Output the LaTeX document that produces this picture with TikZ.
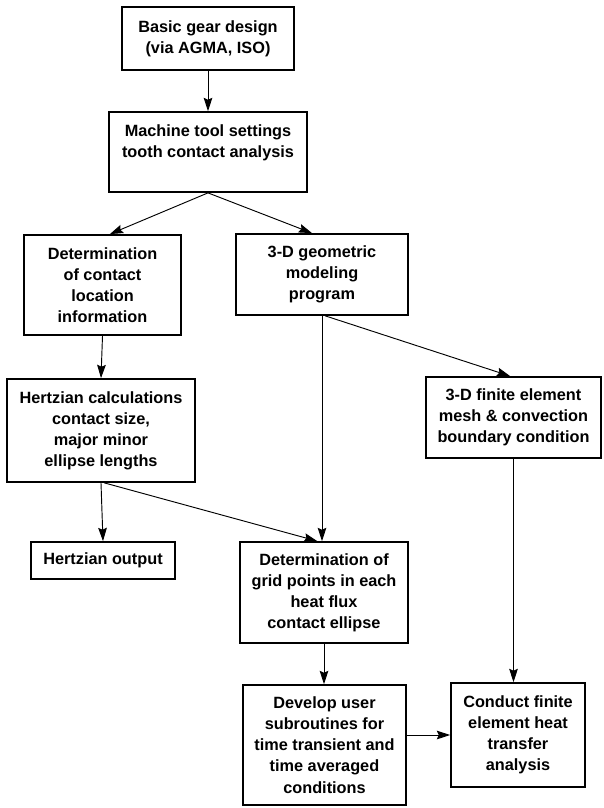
\documentclass[tikz,border=0pt]{standalone}
\usepackage{fontspec}
\setmainfont{Liberation Sans}
\usepackage{tikz}
\usetikzlibrary{positioning,arrows.meta}
\tikzstyle{flowArr}=[-{Stealth[length=4mm, width=2.6mm, inset=0.6mm]}, black, line width=0.8pt]
\tikzstyle {proc_box} = [rectangle, text centered, align=center, draw=black, line width=1.5pt, inner sep=2pt, font=\fontsize{13.9}{18}\selectfont\bfseries]

\begin{document}
\begin{tikzpicture}
        \useasboundingbox (0, 0) rectangle (18.09, -24.24);

        % top of the chart
        \node [style=proc_box, minimum width=5.16cm, minimum height=1.89cm] (Basic) at (6.24, -1.155) {Basic gear design\\(via AGMA, ISO)};
        \node [style=proc_box, minimum width=5.94cm, minimum height=2.4cm] (Machine) at (6.24, -4.56) {Machine tool settings\\tooth contact analysis\\\mbox{}};

        % left branch
        \node [style=proc_box, minimum width=4.71cm, minimum height=3.0cm] (Location) at (3.075, -8.55) {Determination\\of contact\\location\\information};
        \node [style=proc_box, minimum width=5.64cm, minimum height=3.09cm] (Hertz) at (3.03, -12.915) {Hertzian calculations\\contact size,\\major minor\\ellipse lengths};
        \node [style=proc_box, minimum width=4.32cm, minimum height=1.11cm] (HertzOut) at (3.09, -16.815) {Hertzian output};

        % middle branch
        \node [style=proc_box, minimum width=5.16cm, minimum height=2.43cm] (Geometry) at (9.66, -8.235) {3-D geometric\\modeling\\program};
        \node [style=proc_box, minimum width=5.04cm, minimum height=3.03cm] (Grid) at (9.72, -17.775) {Determination of\\grid points in each\\heat flux\\contact ellipse};
        \node [style=proc_box, minimum width=4.89cm, minimum height=3.6cm] (Subroutine) at (9.735, -22.35) {Develop user\\subroutines for\\time transient and\\time averaged\\conditions};

        % right branch
        \node [style=proc_box, minimum width=5.25cm, minimum height=2.43cm] (Mesh) at (15.405, -12.525) {3-D finite element\\mesh \& convection\\boundary condition};
        \node [style=proc_box, minimum width=4.02cm, minimum height=3.12cm] (Conduct) at (15.54, -22.05) {Conduct finite\\element heat\\transfer\\analysis};

        %Arrows
        \draw [style={flowArr}] (Basic.south) -- (Machine.north);
        \draw [style={flowArr}] (Machine.south) -- ([xshift=0.22cm]Location.north);
        \draw [style={flowArr}] (Machine.south) -- ([xshift=-0.3cm]Geometry.north);
        \draw [style={flowArr}] (Location.south) -- (Hertz.north);
        \draw [style={flowArr}] (Hertz.south) -- (HertzOut.north);
        \draw [style={flowArr}] ([xshift=0.1cm]Hertz.south) -- ([xshift=-0.2cm]Grid.north);
        \draw [style={flowArr}] (Geometry.south) -- (Geometry.south |- Grid.north);
        \draw [style={flowArr}] ([xshift=0.1cm]Geometry.south) -- ([xshift=-0.1cm]Mesh.north);
        \draw [style={flowArr}] (Grid.south) -- (Grid.south |- Subroutine.north);
        \draw [style={flowArr}] (Mesh.south) -- (Mesh.south |- Conduct.north);
        \draw [style={flowArr}] (Subroutine.east |- Conduct.west) -- (Conduct.west);
\end{tikzpicture}
\end{document}
